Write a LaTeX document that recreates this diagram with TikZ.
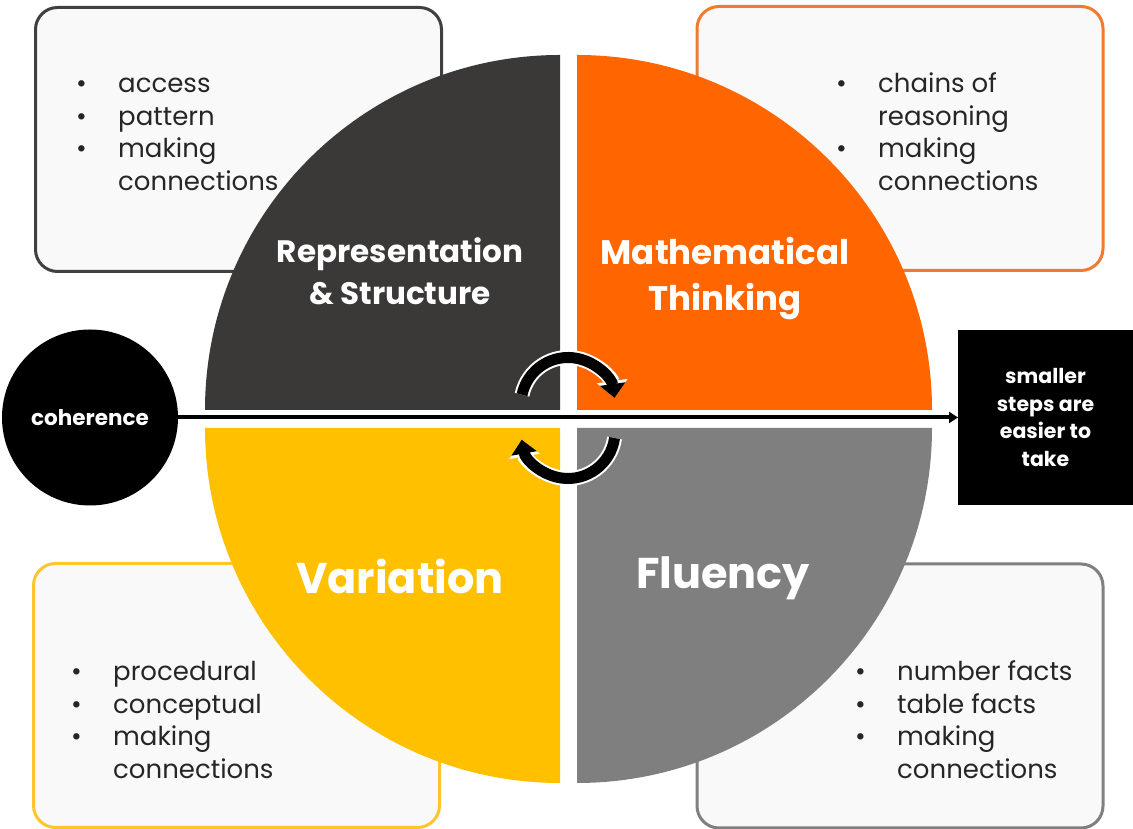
\documentclass[tikz,border=0pt]{standalone}
\usepackage{fontspec}
\setmainfont{Poppins}
\usetikzlibrary{arrows.meta}
\definecolor{qdark}{HTML}{3B3838}
\definecolor{qorange}{HTML}{FF6600}
\definecolor{qyellow}{HTML}{FFC000}
\definecolor{qgray}{HTML}{7F7F7F}
\definecolor{bdark}{HTML}{404040}
\definecolor{borange}{HTML}{F07A2E}
\definecolor{byellow}{HTML}{FFC52A}
\definecolor{bgray}{HTML}{808080}
\definecolor{boxfill}{HTML}{F9F9F9}
\newcommand{\bitem}[1]{\makebox[42pt][l]{\textbullet}#1}
\tikzset{
  infobox/.style={draw, line width=3pt, fill=boxfill, rounded corners=22pt,
    minimum width=406pt, minimum height=264pt, inner sep=0, outer sep=0},
  quadtitle/.style={text=white, font=\bfseries\fontsize{31}{42}\selectfont, align=center, inner sep=0},
  bigtitle/.style={text=white, font=\bfseries\fontsize{43}{50}\selectfont, inner sep=0},
  listtext/.style={anchor=base west, inner sep=0, text=black!85,
    font=\fontsize{26}{32.5}\selectfont, align=left},
  cycback/.style={white, line width=15pt, -{Triangle[length=17pt,width=30pt]}},
  cycarrow/.style={black, line width=11pt, -{Triangle[length=14pt,width=25pt]}},
}
\begin{document}
\begin{tikzpicture}[x=1pt,y=1pt]
\useasboundingbox (0,0) rectangle (1133,829);
% boxes
\node[infobox, draw=bdark]   (boxTL) at (238.5,689.5) {};
\node[infobox, draw=borange] (boxTR) at (900,690.5) {};
\node[infobox, draw=byellow] (boxBL) at (236.5,133.5) {};
\node[infobox, draw=bgray]   (boxBR) at (900,133) {};
% quadrants
\fill[qdark]   (560,419) -- (560,774) arc[start angle=90,end angle=180,radius=355] -- cycle;
\fill[qorange] (577,419) -- (932,419) arc[start angle=0,end angle=90,radius=355] -- cycle;
\fill[qyellow] (560,401) -- (205,401) arc[start angle=180,end angle=270,radius=355] -- cycle;
\fill[qgray]   (577,401) -- (577,46) arc[start angle=270,end angle=360,radius=355] -- cycle;
% titles
\node[quadtitle] (tRep) at (400,558) {Representation\\\& Structure};
\node[quadtitle, font=\bfseries\fontsize{34}{46}\selectfont] (tMath) at (725,550) {Mathematical\\Thinking};
\node[bigtitle] (tVar) at (400,253) {Variation};
\node[bigtitle] (tFlu) at (723,251) {Fluency};
% lists (anchor = baseline of last line)
\node[listtext] (lTL) at (76,638.5) {\bitem{access}\\\bitem{pattern}\\\bitem{making}\\\hspace*{42pt}connections};
\node[listtext] (lTR) at (836,638.5) {\bitem{chains of}\\\hspace*{42pt}reasoning\\\bitem{making}\\\hspace*{42pt}connections};
\node[listtext] (lBL) at (71,50.5) {\bitem{procedural}\\\bitem{conceptual}\\\bitem{making}\\\hspace*{42pt}connections};
\node[listtext] (lBR) at (855,50.5) {\bitem{number facts}\\\bitem{table facts}\\\bitem{making}\\\hspace*{42pt}connections};
% coherence and steps
\node[circle, fill=black, minimum size=176pt, inner sep=0, outer sep=0, text=white,
  font=\bfseries\fontsize{21.5}{25}\selectfont] (coh) at (90,411.5) {coherence};
\node[fill=black, minimum width=175pt, minimum height=175pt, inner sep=0, outer sep=0,
  text=white, align=center, font=\bfseries\fontsize{20.5}{27.5}\selectfont] (steps) at (1045.5,411.5)
  {smaller\\steps are\\easier to\\take};
\draw[line width=4pt, -{Triangle[length=9pt,width=11pt]}] (coh.east) -- (steps.west);
% cycle arrows
\coordinate (ctop) at (568,424.5);
\coordinate (cbot) at (568,397.5);
\draw[cycback]  (ctop) ++(168:47) arc[start angle=168,end angle=8,radius=47];
\draw[cycarrow] (ctop) ++(168:47) arc[start angle=168,end angle=8,radius=47];
\draw[cycback]  (cbot) ++(-8:47) arc[start angle=-8,end angle=-170,radius=47];
\draw[cycarrow] (cbot) ++(-8:47) arc[start angle=-8,end angle=-170,radius=47];
\end{tikzpicture}
\end{document}
